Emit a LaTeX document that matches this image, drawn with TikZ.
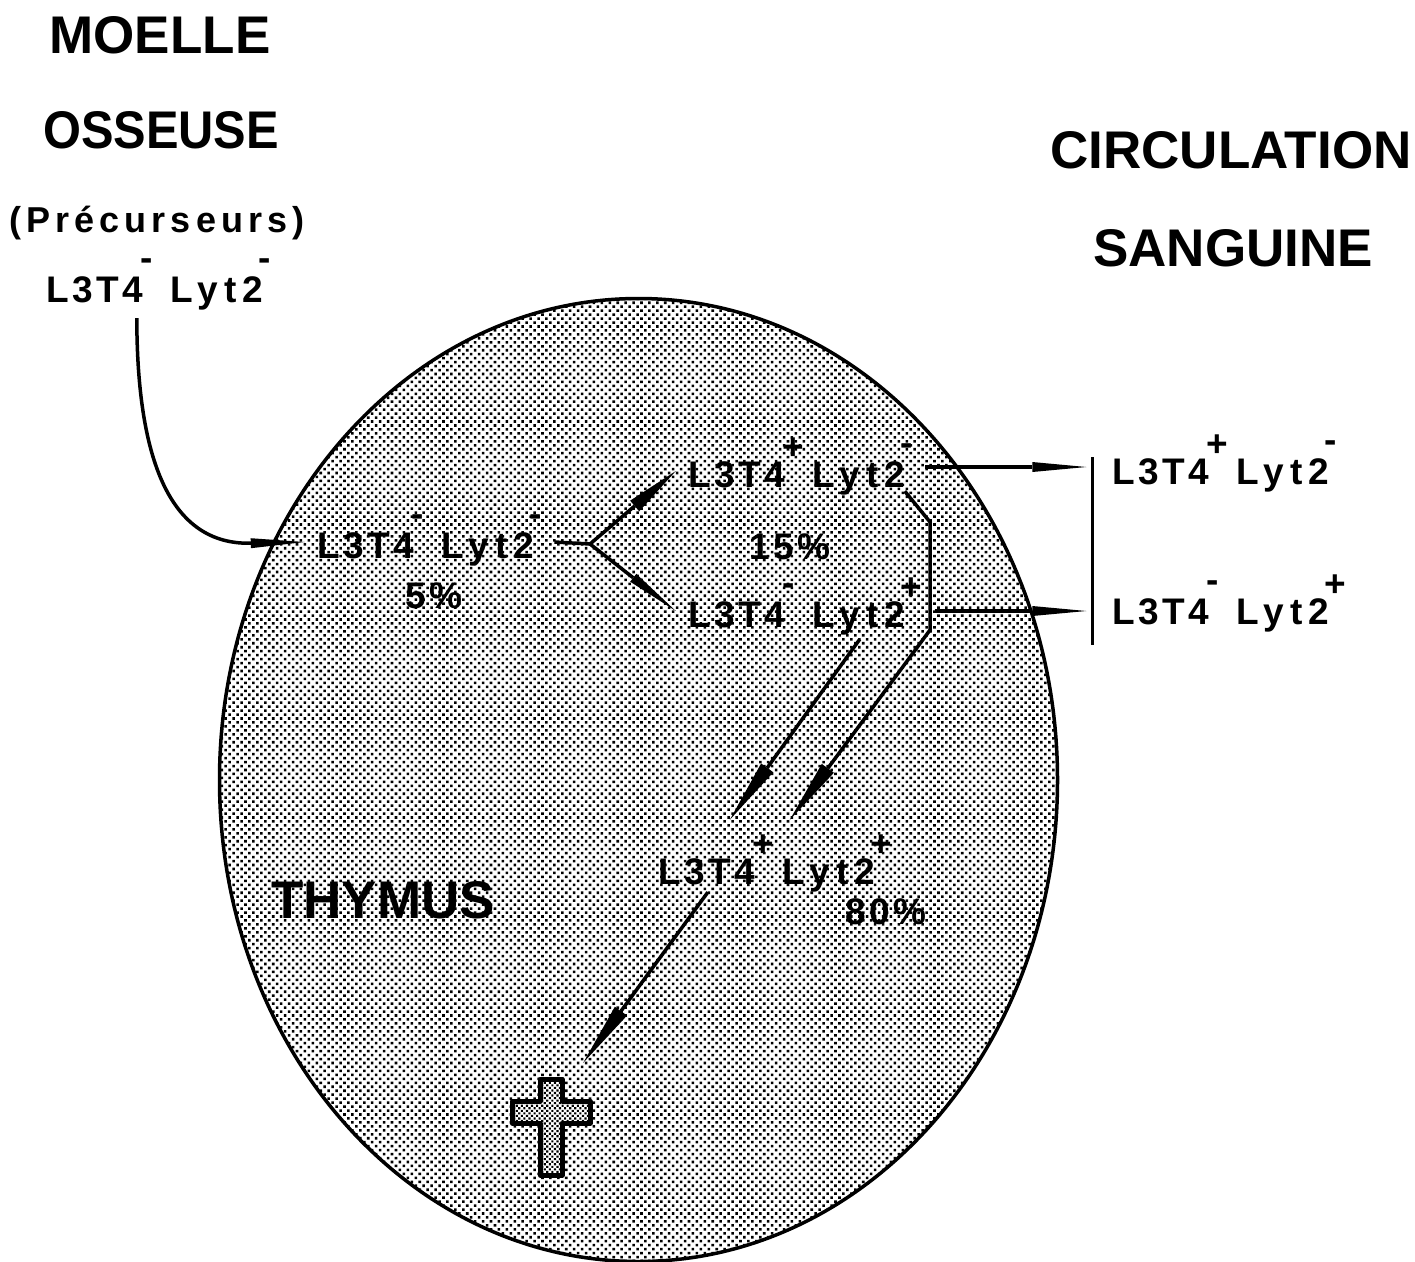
\documentclass[tikz,border=0pt]{standalone}
\usepackage{fontspec}
\setmainfont{Liberation Sans}
\usetikzlibrary{arrows.meta,patterns.meta,calc,shapes.geometric}
\newfontfamily\cellfont[LetterSpace=10]{Liberation Sans Bold}
\newfontfamily\lytfont[LetterSpace=16]{Liberation Sans Bold}
\newfontfamily\widefont[LetterSpace=14]{Liberation Sans Bold}
\newcommand{\supplus}{\smash{\raisebox{28pt}{+}}}
\newcommand{\supminus}{\smash{\raisebox{32pt}{-}}}
\newcommand{\cellname}[2]{L3T4\kern-3pt\makebox[30pt][l]{#1}{\lytfont Lyt2}\kern-4pt#2}
\tikzset{
  title/.style={font=\fontsize{53}{53}\selectfont\bfseries,inner sep=0pt},
  cell/.style={anchor=text,font=\fontsize{37}{37}\cellfont,text height=32pt,text depth=0pt,inner xsep=12pt,inner ysep=4pt},
  percent/.style={font=\fontsize{37}{37}\cellfont,inner sep=0pt},
  link/.style={line width=3.5pt},
  flow/.style={link,-{Stealth[length=54pt,width=14pt,inset=0pt,line width=0pt]}},
  flowslim/.style={link,-{Stealth[length=54pt,width=10pt,inset=0pt,line width=0pt]}},
  flowlong/.style={link,-{Stealth[length=64pt,width=15pt,inset=0pt,line width=0pt]}}
}
\begin{document}
\begin{tikzpicture}[x=1pt,y=-1pt]
  \useasboundingbox (0,0) rectangle (1415,1261);
  % thymus
  \node[ellipse,draw,line width=3.5pt,minimum width=838pt,minimum height=963pt,inner sep=0pt,
    pattern={Dots[distance=5.6pt,radius=1.8pt,angle=45]}] (thymus) at (638.5,780) {};
  \node[title] (moelle) at (160,35) {MOELLE};
  \node[title] (osseuse) at (161,130) {\scalebox{0.92}[1]{OSSEUSE}};
  \node[inner sep=0pt,font=\fontsize{36}{36}\widefont] (precurseurs) at (157,223) {(Précurseurs)};
  \node[title] (circulation) at (1231,150) {CIRCULATION};
  \node[title] (sanguine) at (1233,248) {SANGUINE};
  \node[title] (thymuslabel) at (383,900) {THYMUS};
  % cells
  \node[cell] (precell) at (46,302) {\cellname{\supminus}{\supminus}};
  \node[cell] (midcell) at (317,558) {\cellname{\supminus}{\supminus}};
  \node[cell] (upcell) at (688,487) {\cellname{\supplus}{\supminus}};
  \node[cell] (lowcell) at (688,627) {\cellname{\supminus}{\supplus}};
  \node[cell] (bothcell) at (658,884) {\cellname{\supplus}{\supplus}};
  \node[cell] (bloodup) at (1112,484) {\cellname{\supplus}{\supminus}};
  \node[cell] (bloodlow) at (1112,624) {\cellname{\supminus}{\supplus}};
  \node[percent] (fivepc) at (434,596) {5\%};
  \node[percent] (fifteenpc) at (790,547) {15\%};
  \node[percent] (eightypc) at (886,912) {80\%};
  \node[fill,inner sep=0pt,minimum width=3pt,minimum height=188pt] (bar) at (1092,551) {};
  \coordinate (fork) at (590,544);
  \coordinate (bendtop) at (930,522);
  \coordinate (bendlow) at (930,630);
  % connectors
  \draw[flowslim] ([xshift=103pt,yshift=-12pt]precell.south west) .. controls (137,460) and (170,545) .. (midcell.west);
  \draw[link] (midcell.east) -- (fork);
  \draw[flow] (fork) -- (upcell.west);
  \draw[flowslim] (fork) -- (lowcell.west);
  \draw[flowslim] ([yshift=4pt]upcell.east) -- ([yshift=4pt,xshift=-4pt]upcell.east -| bar.west);
  \draw[flowslim] (lowcell.east) -- ([xshift=-4pt]lowcell.east -| bar.west);
  \draw[flowlong] ([xshift=229pt]upcell.south west) -- (bendtop) -- (bendlow) -- ([xshift=144pt,yshift=28pt]bothcell.north west);
  \draw[flowlong] ([xshift=184pt,yshift=-8pt]lowcell.south west) -- ([xshift=84pt,yshift=28pt]bothcell.north west);
  \node[inner sep=0pt,minimum width=80pt,minimum height=98pt] (deathcross) at (551,1127) {};
  \draw[flowlong] ([xshift=62pt,yshift=-4pt]bothcell.south west) -- ([xshift=-8pt,yshift=15pt]deathcross.north east);
  % cross
  \draw[line width=5pt,preaction={fill=white},pattern={Dots[distance=3.6pt,radius=1.5pt,angle=45]},line join=round] (540,1079) -- (562,1079) -- (562,1101) -- (590,1101) -- (590,1123) -- (562,1123) -- (562,1175) -- (540,1175) -- (540,1123) -- (512,1123) -- (512,1101) -- (540,1101) -- cycle;
\end{tikzpicture}
\end{document}
